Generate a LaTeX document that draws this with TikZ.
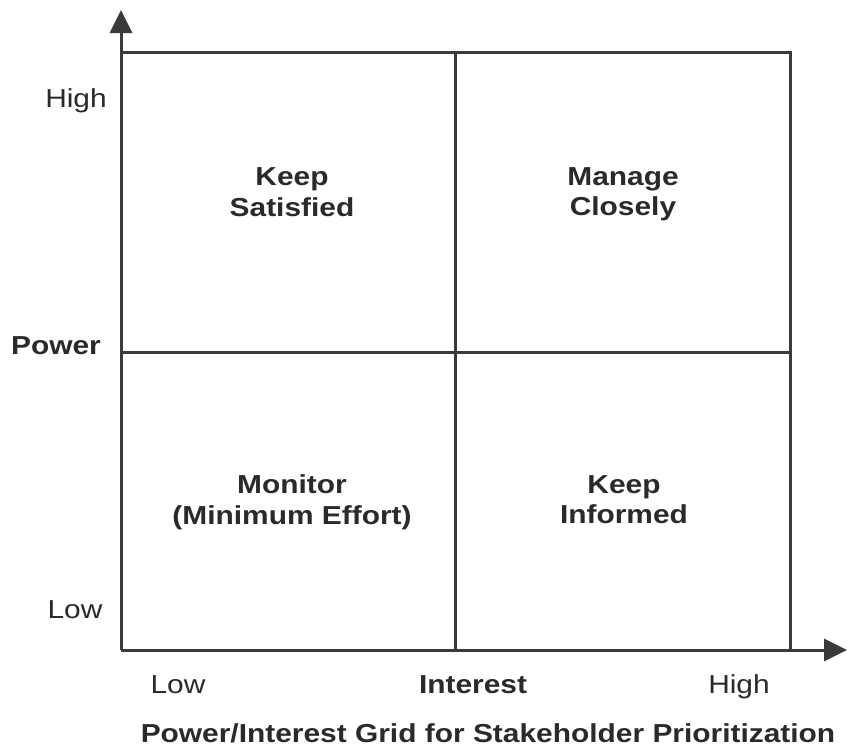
\documentclass[tikz,border=0pt]{standalone}
\usepackage{fontspec}
\setmainfont{Liberation Sans}[FakeStretch=1.15]
\usetikzlibrary{arrows.meta}
\definecolor{linec}{HTML}{3A3A3A}
\definecolor{textc}{HTML}{2A2A2A}
\begin{document}
\begin{tikzpicture}[x=1pt,y=-1pt,
  gridline/.style={draw=linec,line width=3pt},
  axisline/.style={draw=linec,line width=3pt,-{Triangle[length=23pt,width=22pt]}},
  lbl/.style={text=textc,font=\fontsize{26}{31}\selectfont,inner sep=0pt,anchor=base},
  blbl/.style={lbl,font=\fontsize{26}{31}\selectfont\bfseries},
  quad/.style={blbl,align=center,anchor=south}]
\useasboundingbox (0,0) rectangle (856,747);
\fill[white] (0,0) rectangle (856,747);
% corners
\coordinate (O) at (121,650);
\coordinate (Ytop) at (121,10);
\coordinate (Xend) at (847,650);
\coordinate (TL) at (121,52);
\coordinate (TR) at (790,52);
\coordinate (BR) at (790,650);
\coordinate (TM) at (455,52);
\coordinate (BM) at (455,650);
\coordinate (ML) at (121,352);
\coordinate (MR) at (790,352);
% grid
\draw[gridline] (TL) -- (TR) -- (BR);
\draw[gridline] (TM) -- (BM);
\draw[gridline] (ML) -- (MR);
% axes
\draw[axisline] (O) -- (Ytop);
\draw[axisline] (O) -- (Xend);
% axis labels
\node[lbl] (yhigh) at (76,107) {High};
\node[lbl] (ylow) at (75,618) {Low};
\node[blbl] (power) at (56,354) {Power};
\node[lbl] (xlow) at (178,693) {Low};
\node[blbl] (interest) at (473,693) {Interest};
\node[lbl] (xhigh) at (739,693) {High};
% quadrant labels
\node[blbl,align=center] (ks) at (292,185) {Keep};
\node[blbl] (ks2) at (292,216) {Satisfied};
\node[blbl] (mc) at (623,185) {Manage};
\node[blbl] (mc2) at (623,215) {Closely};
\node[blbl] (mo) at (292,493) {Monitor};
\node[blbl] (mo2) at (292,524) {(Minimum Effort)};
\node[blbl] (ki) at (624,493) {Keep};
\node[blbl] (ki2) at (624,523) {Informed};
% title
\node[blbl] (title) at (488,742) {Power/Interest Grid for Stakeholder Prioritization};
\end{tikzpicture}
\end{document}
